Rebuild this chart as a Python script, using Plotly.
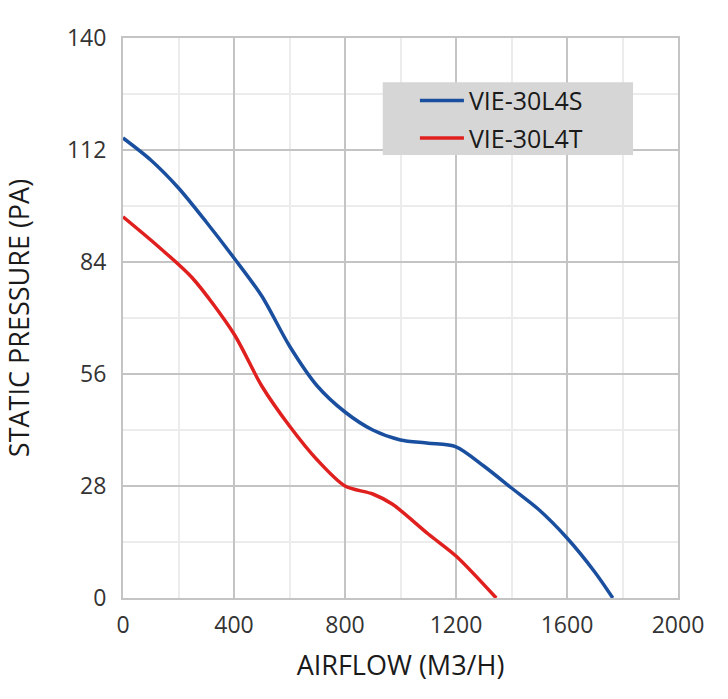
import plotly.graph_objects as go

# Data
s_x = [0, 100, 200, 300, 400, 500, 600, 700, 800, 900, 1000, 1100, 1200, 1300, 1400, 1500, 1600, 1700, 1765]
s_y = [115, 109.5, 102.5, 94, 85, 75.5, 63, 53, 46.5, 42, 39.5, 38.7, 37.8, 33, 27.5, 22, 15, 6.5, 0]
t_x = [0, 125, 250, 400, 500, 600, 700, 800, 900, 970, 1100, 1200, 1345]
t_y = [95.3, 88, 80, 66, 53, 43, 34.5, 28, 26, 23.5, 16, 10.5, 0]
x_ticks = [0, 400, 800, 1200, 1600, 2000]
y_ticks = [0, 28, 56, 84, 112, 140]

fig = go.Figure()
fig.add_trace(go.Scatter(x=s_x, y=s_y, mode="lines", name="VIE-30L4S", legendgroup="a",
                         line=dict(color="#1a4f9f", width=3.5, shape="spline", smoothing=0.8)))
fig.add_trace(go.Scatter(x=t_x, y=t_y, mode="lines", name="VIE-30L4T", legendgroup="b",
                         line=dict(color="#e0201e", width=3.5, shape="spline", smoothing=0.8)))

font_family = "Open Sans, Liberation Sans, sans-serif"
fig.update_layout(
    width=728, height=699,
    margin=dict(l=123, r=50, t=38, b=101),
    paper_bgcolor="white", plot_bgcolor="white",
    font=dict(family=font_family, size=23, color="#333333"),
    showlegend=True,
    legend=dict(x=0.526, y=0.929, xanchor="left", yanchor="top",
                bgcolor="rgba(0,0,0,0)", borderwidth=0, itemwidth=44,
                font=dict(size=25, color="#1a1a1a"),
                traceorder="grouped", tracegroupgap=2),
    shapes=[dict(type="rect", xref="paper", yref="paper",
                 x0=0.468, x1=0.919, y0=0.791, y1=0.921,
                 fillcolor="#d6d6d6", line=dict(width=0), layer="above")],
)
fig.update_xaxes(
    range=[0, 2000], tickvals=x_ticks, ticktext=[str(v) for v in x_ticks],
    showgrid=True, gridcolor="#c4c4c4", gridwidth=2,
    minor=dict(dtick=200, tick0=0, showgrid=True, gridcolor="#ececec", gridwidth=2),
    showline=True, linecolor="#c4c4c4", linewidth=2, mirror=True,
    zeroline=False, ticks="outside", ticklen=5, tickcolor="rgba(0,0,0,0)",
    automargin=False,
    title=dict(text="AIRFLOW (M3/H)", font=dict(size=27, color="#1a1a1a"), standoff=18),
)
fig.update_yaxes(
    range=[0, 140], tickvals=y_ticks, ticktext=[str(v) for v in y_ticks],
    showgrid=True, gridcolor="#c4c4c4", gridwidth=2,
    minor=dict(dtick=14, tick0=0, showgrid=True, gridcolor="#ececec", gridwidth=2),
    showline=True, linecolor="#c4c4c4", linewidth=2, mirror=True,
    zeroline=False, ticks="outside", ticklen=10, tickcolor="rgba(0,0,0,0)",
    automargin=False,
    title=dict(text="STATIC PRESSURE (PA)", font=dict(size=27, color="#1a1a1a"), standoff=30),
)

fig.write_html("out.html")
